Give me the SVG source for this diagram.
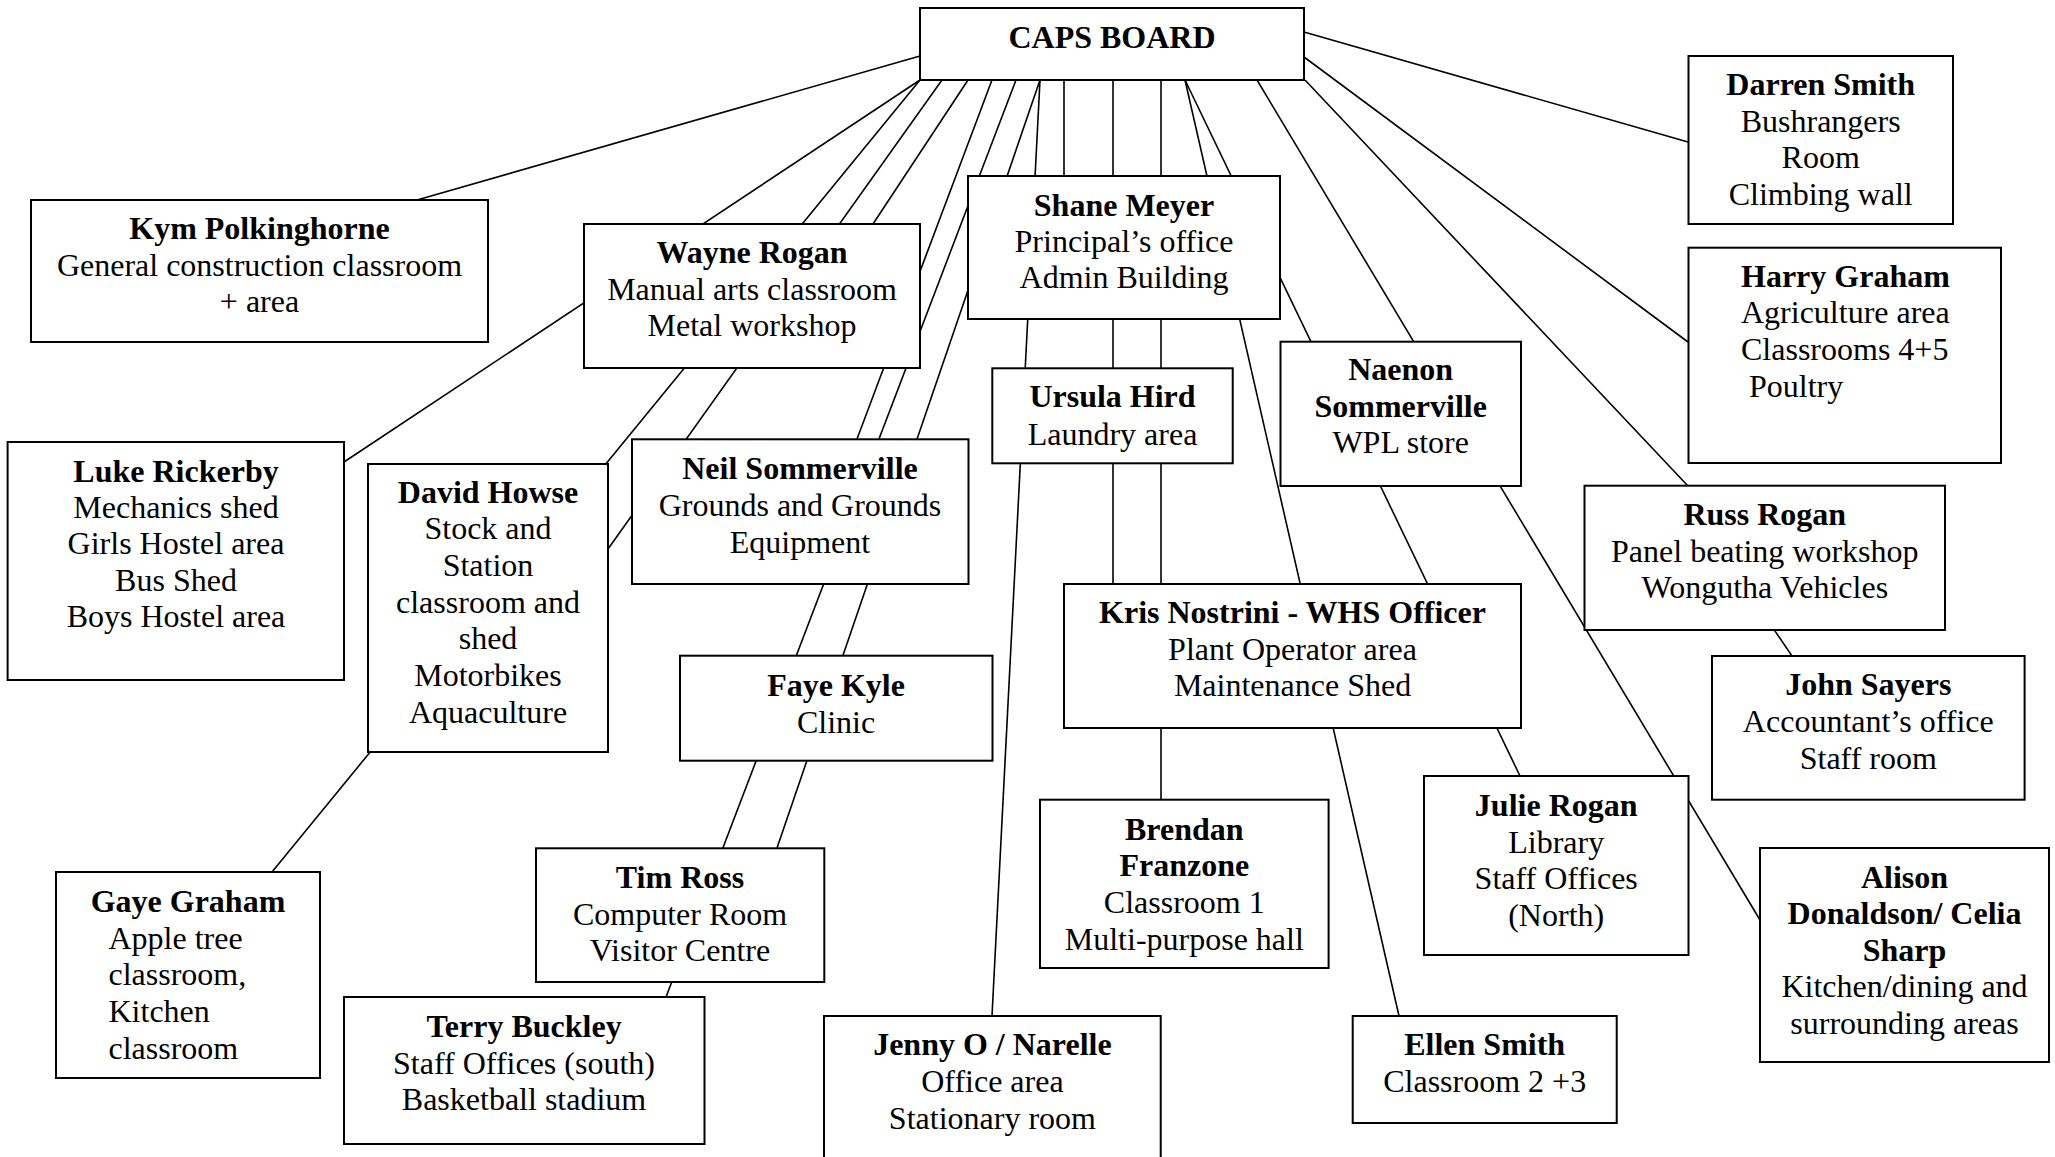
<svg xmlns="http://www.w3.org/2000/svg" width="2055" height="1157" viewBox="0 0 2055 1157">
<style>
.box{fill:#fff;stroke:#000;stroke-width:2}
.ln{stroke:#000;stroke-width:1.6;fill:none}
text{font-family:"Liberation Serif","Times New Roman",serif;font-size:32px;fill:#000;text-anchor:middle}
.b{font-weight:bold}
.l{text-anchor:start}
</style>
<rect width="2055" height="1157" fill="#fff"/>
<g id="connectors">
<line class="ln" x1="920" y1="56" x2="417" y2="200"/>
<line class="ln" x1="920" y1="80" x2="344" y2="462"/>
<line class="ln" x1="920" y1="80" x2="272" y2="872"/>
<line class="ln" x1="942" y1="80" x2="608" y2="549"/>
<line class="ln" x1="968" y1="80" x2="873" y2="224"/>
<line class="ln" x1="992" y1="80" x2="857" y2="439"/>
<line class="ln" x1="1016" y1="80" x2="666" y2="997"/>
<line class="ln" x1="1040" y1="80" x2="777" y2="848"/>
<line class="ln" x1="1040" y1="80" x2="992" y2="1016"/>
<line class="ln" x1="1064" y1="80" x2="1064" y2="176"/>
<line class="ln" x1="1113" y1="80" x2="1113" y2="584"/>
<line class="ln" x1="1161" y1="80" x2="1161" y2="800"/>
<line class="ln" x1="1185" y1="80" x2="1399" y2="1016"/>
<line class="ln" x1="1185" y1="80" x2="1520" y2="776"/>
<line class="ln" x1="1257" y1="80" x2="1760" y2="920"/>
<line class="ln" x1="1305" y1="80" x2="1688" y2="486"/>
<line class="ln" x1="1304" y1="32" x2="1688" y2="142"/>
<line class="ln" x1="1304" y1="57" x2="1688" y2="342"/>
<line class="ln" x1="1754" y1="600" x2="1792" y2="656"/>
</g>
<g id="caps"><rect class="box" x="920" y="8" width="384" height="72"/><text class="b" x="1112" y="48">CAPS BOARD</text></g>
<g id="kym"><rect class="box" x="31" y="200" width="457" height="142"/>
<text class="b" x="259.5" y="239">Kym Polkinghorne</text>
<text x="259.5" y="275.5">General construction classroom</text>
<text x="259.5" y="312">+ area</text></g>
<g id="wayne"><rect class="box" x="584" y="224" width="336" height="144"/>
<text class="b" x="752" y="263">Wayne Rogan</text>
<text x="752" y="299.5">Manual arts classroom</text>
<text x="752" y="336">Metal workshop</text></g>
<g id="shane"><rect class="box" x="968" y="176" width="312" height="143"/>
<text class="b" x="1124" y="215.5">Shane Meyer</text>
<text x="1124" y="251.5">Principal’s office</text>
<text x="1124" y="288">Admin Building</text></g>
<g id="darren"><rect class="box" x="1688.5" y="56" width="264.5" height="168"/>
<text class="b" x="1820.7" y="95">Darren Smith</text>
<text x="1820.7" y="131.7">Bushrangers</text>
<text x="1820.7" y="168.3">Room</text>
<text x="1820.7" y="205">Climbing wall</text></g>
<g id="harry"><rect class="box" x="1688.5" y="247.7" width="312.5" height="215.3"/>
<text class="b l" x="1741" y="286.7">Harry Graham</text>
<text class="l" x="1741" y="323.3">Agriculture area</text>
<text class="l" x="1741" y="360">Classrooms 4+5</text>
<text class="l" x="1749" y="396.7">Poultry</text></g>
<g id="luke"><rect class="box" x="7.6" y="442" width="336.4" height="238"/>
<text class="b" x="176" y="481.7">Luke Rickerby</text>
<text x="176" y="517.5">Mechanics shed</text>
<text x="176" y="554">Girls Hostel area</text>
<text x="176" y="590.7">Bus Shed</text>
<text x="176" y="627">Boys Hostel area</text></g>
<g id="david"><rect class="box" x="368" y="464" width="240" height="288"/>
<text class="b" x="488" y="502.7">David Howse</text>
<text x="488" y="539.3">Stock and</text>
<text x="488" y="576">Station</text>
<text x="488" y="612.7">classroom and</text>
<text x="488" y="649.3">shed</text>
<text x="488" y="686">Motorbikes</text>
<text x="488" y="722.7">Aquaculture</text></g>
<g id="neil"><rect class="box" x="632" y="439.3" width="336.5" height="144.7"/>
<text class="b" x="800" y="479.3">Neil Sommerville</text>
<text x="800" y="516">Grounds and Grounds</text>
<text x="800" y="552.7">Equipment</text></g>
<g id="ursula"><rect class="box" x="992.3" y="368.3" width="240.4" height="95"/>
<text class="b" x="1112.5" y="406.7">Ursula Hird</text>
<text x="1112.5" y="445">Laundry area</text></g>
<g id="naenon"><rect class="box" x="1280.5" y="341.7" width="240.5" height="144.3"/>
<text class="b" x="1400.7" y="380">Naenon</text>
<text class="b" x="1400.7" y="416.6">Sommerville</text>
<text x="1400.7" y="453.2">WPL store</text></g>
<g id="russ"><rect class="box" x="1584.5" y="485.7" width="360.5" height="144.3"/>
<text class="b" x="1764.8" y="525">Russ Rogan</text>
<text x="1764.8" y="561.7">Panel beating workshop</text>
<text x="1764.8" y="598.3">Wongutha Vehicles</text></g>
<g id="faye"><rect class="box" x="680" y="655.7" width="312.5" height="105"/>
<text class="b" x="836" y="696">Faye Kyle</text>
<text x="836" y="733">Clinic</text></g>
<g id="kris"><rect class="box" x="1064" y="584" width="457" height="144"/>
<text class="b" x="1292.5" y="622.7">Kris Nostrini - WHS Officer</text>
<text x="1292.5" y="659.5">Plant Operator area</text>
<text x="1292.5" y="696.3">Maintenance Shed</text></g>
<g id="john"><rect class="box" x="1712" y="656" width="312.6" height="143.7"/>
<text class="b" x="1868.3" y="695">John Sayers</text>
<text x="1868.3" y="731.7">Accountant’s office</text>
<text x="1868.3" y="768.5">Staff room</text></g>
<g id="gaye"><rect class="box" x="56" y="872" width="264" height="206"/>
<text class="b" x="188" y="912">Gaye Graham</text>
<text class="l" x="108.5" y="948.7">Apple tree</text>
<text class="l" x="108.5" y="985.3">classroom,</text>
<text class="l" x="108.5" y="1022">Kitchen</text>
<text class="l" x="108.5" y="1058.6">classroom</text></g>
<g id="tim"><rect class="box" x="536" y="848.3" width="288.3" height="133.7"/>
<text class="b" x="680" y="888">Tim Ross</text>
<text x="680" y="924.5">Computer Room</text>
<text x="680" y="961">Visitor Centre</text></g>
<g id="terry"><rect class="box" x="344" y="997" width="360.5" height="147"/>
<text class="b" x="524" y="1037">Terry Buckley</text>
<text x="524" y="1073.5">Staff Offices (south)</text>
<text x="524" y="1110">Basketball stadium</text></g>
<g id="brendan"><rect class="box" x="1040" y="799.7" width="288.6" height="168.3"/>
<text class="b" x="1184.3" y="839.7">Brendan</text>
<text class="b" x="1184.3" y="876.3">Franzone</text>
<text x="1184.3" y="913">Classroom 1</text>
<text x="1184.3" y="949.7">Multi-purpose hall</text></g>
<g id="jenny"><rect class="box" x="824" y="1016" width="336.7" height="150"/>
<text class="b" x="992.4" y="1055.3">Jenny O / Narelle</text>
<text x="992.4" y="1091.8">Office area</text>
<text x="992.4" y="1128.5">Stationary room</text></g>
<g id="julie"><rect class="box" x="1424" y="776" width="264.5" height="179"/>
<text class="b" x="1556.2" y="816">Julie Rogan</text>
<text x="1556.2" y="852.5">Library</text>
<text x="1556.2" y="889">Staff Offices</text>
<text x="1556.2" y="925.5">(North)</text></g>
<g id="ellen"><rect class="box" x="1352.7" y="1016" width="264" height="107"/>
<text class="b" x="1484.7" y="1055.3">Ellen Smith</text>
<text x="1484.7" y="1092">Classroom 2 +3</text></g>
<g id="alison"><rect class="box" x="1760" y="848" width="289" height="214"/>
<text class="b" x="1904.5" y="887.7">Alison</text>
<text class="b" x="1904.5" y="924.2">Donaldson/ Celia</text>
<text class="b" x="1904.5" y="960.7">Sharp</text>
<text x="1904.5" y="997.2">Kitchen/dining and</text>
<text x="1904.5" y="1033.7">surrounding areas</text></g>
</svg>
